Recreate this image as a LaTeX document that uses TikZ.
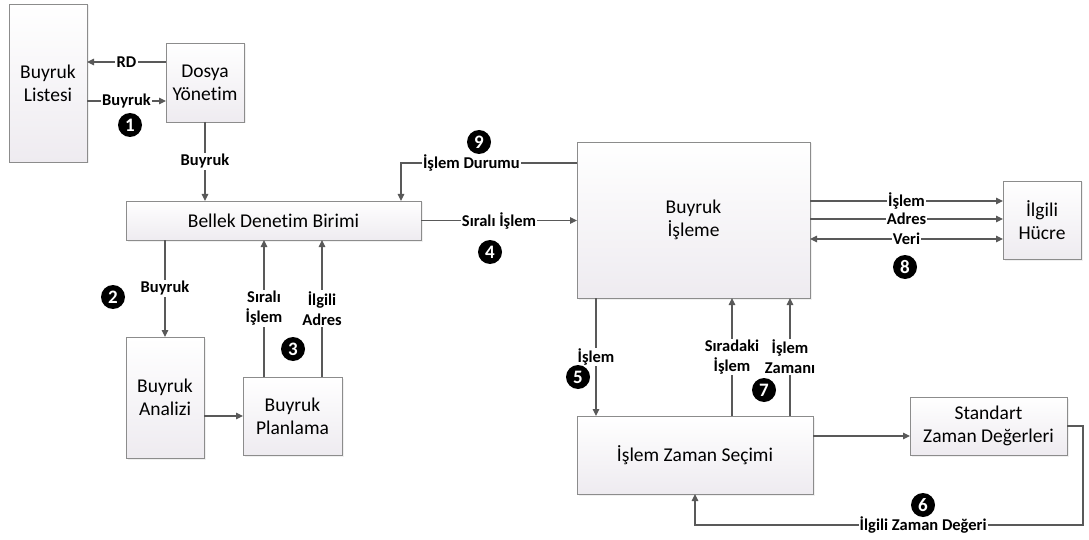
\documentclass[tikz,border=0pt]{standalone}
\usepackage{fontspec}
\setmainfont{Carlito}[Ligatures=NoCommon]
\usetikzlibrary{arrows.meta,shadows}
\definecolor{boxline}{RGB}{140,140,140}
\definecolor{boxbot}{RGB}{238,235,240}
\definecolor{wire}{RGB}{89,89,89}
\begin{document}
\begin{tikzpicture}[x=1pt,y=-1pt,
  box/.style={draw=boxline,line width=0.8pt,top color=white,bottom color=boxbot,
    align=center,inner sep=0pt,outer sep=0pt,
    font=\fontsize{19.5}{23}\selectfont,
    drop shadow={opacity=0.12,shadow xshift=1.5pt,shadow yshift=-1.5pt}},
  arr/.style={draw=wire,line width=1.1pt,-{Triangle[length=7pt,width=6.5pt]}},
  dbl/.style={draw=wire,line width=1.1pt,{Triangle[length=7pt,width=6.5pt]}-{Triangle[length=7pt,width=6.5pt]}},
  lbl/.style={fill=white,inner sep=1.2pt,align=center,text=black,
    font=\fontsize{16.5}{20}\selectfont\bfseries},
  num/.style={circle,fill=black,text=white,minimum size=24pt,inner sep=0pt,
    font=\fontsize{19}{19}\selectfont\bfseries}]
\useasboundingbox (0,0) rectangle (1089,540);

% blocks
\node[box,minimum width=78pt,minimum height=158pt] (lst) at (48,83) {Buyruk\\Listesi};
\node[box,minimum width=78pt,minimum height=79pt] (dosya) at (205,82.5) {Dosya\\Yönetim};
\node[box,minimum width=295pt,minimum height=39pt] (bellek) at (273.5,220.5) {Bellek Denetim Birimi};
\node[box,minimum width=78pt,minimum height=121pt] (analiz) at (165,397.5) {Buyruk\\Analizi};
\node[box,minimum width=99pt,minimum height=78pt] (plan) at (292.5,416) {Buyruk\\Planlama};
\node[box,minimum width=233pt,minimum height=156pt] (isleme) at (693.5,220) {Buyruk\\İşleme};
\node[box,minimum width=78pt,minimum height=78pt] (hucre) at (1042,220) {İlgili\\Hücre};
\node[box,minimum width=236pt,minimum height=78pt] (secim) at (695,455) {İşlem Zaman Seçimi};
\node[box,minimum width=157pt,minimum height=58pt] (std) at (988.5,426) {Standart\\Zaman Değerleri};

% file management <-> instruction list
\draw[arr] ([yshift=20.5pt]dosya.west) -- ([yshift=20.5pt]dosya.west -| lst.east)
  node[lbl,midway] {RD};
\draw[arr] ([yshift=-18.5pt]dosya.west -| lst.east) -- ([yshift=-18.5pt]dosya.west)
  node[lbl,midway] {Buyruk};

% file management -> memory control unit
\draw[arr] (dosya.south) -- (dosya.south |- bellek.north) node[lbl,midway] {Buyruk};

% memory control unit -> analysis
\draw[arr] (analiz.north |- bellek.south) -- (analiz.north) node[lbl,midway] {Buyruk};

% analysis -> planning
\draw[arr] (analiz.east |- plan.west) -- (plan.west);

% planning -> memory control unit
\draw[arr] ([xshift=-28.5pt]plan.north) -- ([xshift=-28.5pt]plan.north |- bellek.south)
  node[lbl,midway] {Sıralı\\İşlem};
\draw[arr] ([xshift=29.5pt]plan.north) -- ([xshift=29.5pt]plan.north |- bellek.south)
  node[lbl,midway] {İlgili\\Adres};

% status feedback and ordered operation
\draw[arr] ([yshift=57pt]isleme.west) -| ([xshift=127.5pt]bellek.north)
  node[lbl,pos=0.3] {İşlem Durumu};
\draw[arr] (bellek.east) -- (isleme.west |- bellek.east) node[lbl,midway] {Sıralı İşlem};

% processing <-> related cell
\draw[arr] ([yshift=19pt]isleme.east) -- ([yshift=19pt]isleme.east -| hucre.west)
  node[lbl,midway] {İşlem};
\draw[arr] ([yshift=1pt]isleme.east) -- ([yshift=1pt]isleme.east -| hucre.west)
  node[lbl,midway] {Adres};
\draw[dbl] ([yshift=-19pt]isleme.east) -- ([yshift=-19pt]isleme.east -| hucre.west)
  node[lbl,midway] {Veri};

% processing <-> time selection
\draw[arr] ([xshift=-97.5pt]isleme.south) -- ([xshift=-97.5pt]isleme.south |- secim.north)
  node[lbl,midway] {İşlem};
\draw[arr] ([xshift=37pt]secim.north) -- ([xshift=37pt]secim.north |- isleme.south)
  node[lbl,midway] {Sıradaki\\İşlem};
\draw[arr] ([xshift=95pt]secim.north) -- ([xshift=95pt]secim.north |- isleme.south)
  node[lbl,midway] {İşlem\\Zamanı};

% time selection -> standard values and back
\draw[arr] ([yshift=-10pt]std.west -| secim.east) -- ([yshift=-10pt]std.west);
\coordinate (fbR) at (1083,525);
\coordinate (fbL) at (secim.south |- fbR);
\draw[arr] (std.east) -| (fbR) -- node[lbl,pos=0.412] {İlgili Zaman Değeri} (fbL) -- (secim.south);

% step numbers
\node[num] (n1) at (130,125) {1};
\node[num] (n2) at (113,297) {2};
\node[num] (n3) at (293,349) {3};
\node[num] (n4) at (490,252) {4};
\node[num] (n5) at (578,377) {5};
\node[num] (n6) at (923,505) {6};
\node[num] (n7) at (764,390) {7};
\node[num] (n8) at (905,267) {8};
\node[num] (n9) at (479,142) {9};
\end{tikzpicture}
\end{document}
